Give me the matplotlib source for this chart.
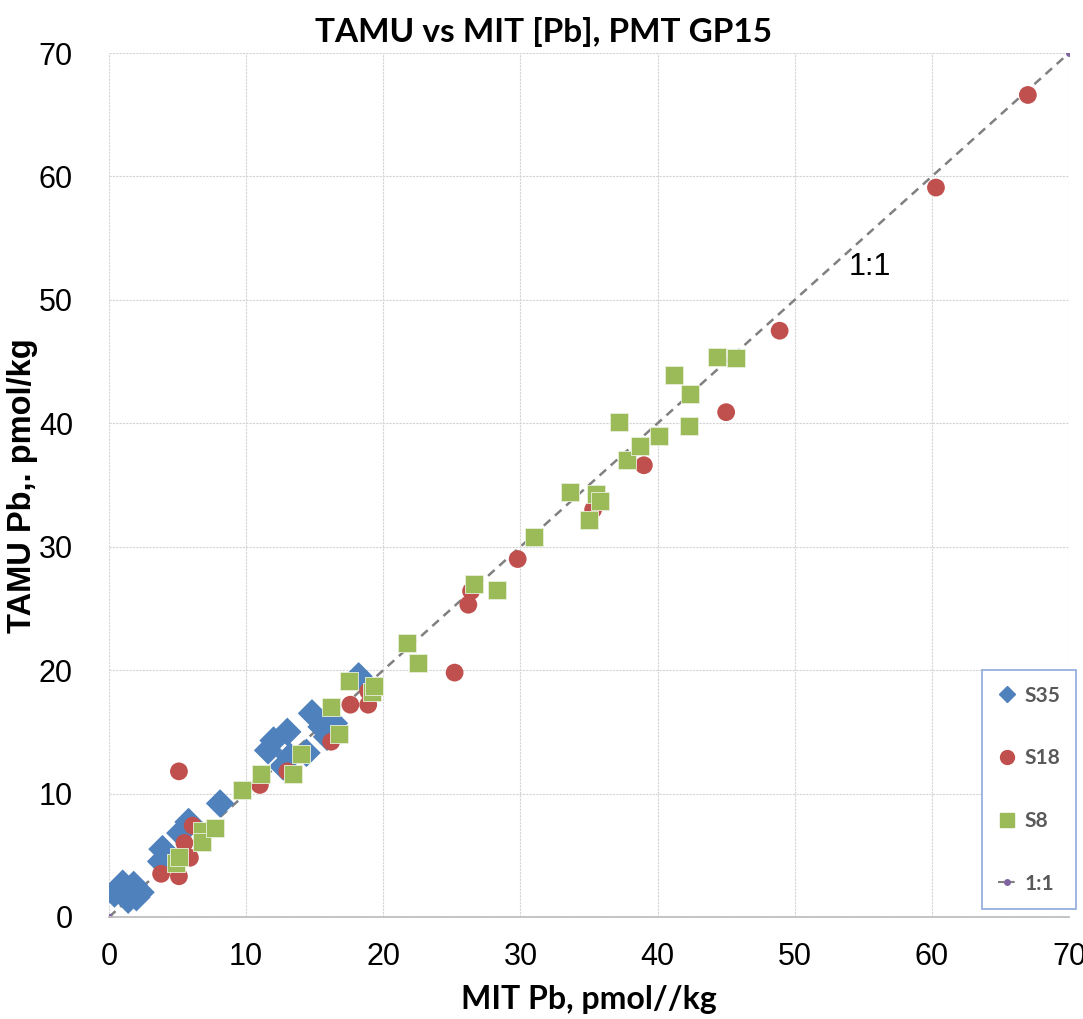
import matplotlib
matplotlib.use("Agg")
import matplotlib.pyplot as plt
from matplotlib.lines import Line2D

# ---- data ----
s35_x = [0.4, 1.2, 1.4, 1.8, 2.3, 2.0, 1.0, 3.9, 3.8, 5.2, 5.8, 8.1,
         12.0, 13.0, 11.6, 13.2, 14.4, 14.8, 15.5, 16.4, 15.9, 12.7, 18.2]
s35_y = [1.9, 2.2, 1.4, 2.6, 2.0, 1.6, 2.7, 5.5, 4.5, 6.8, 7.7, 9.2,
         14.3, 15.0, 13.5, 13.0, 13.3, 16.5, 15.4, 15.7, 14.6, 12.2, 19.5]

s18_x = [5.1, 3.8, 5.1, 5.9, 5.5, 6.1, 11.0, 13.0, 16.2, 17.6, 18.9, 18.9,
         25.2, 26.2, 26.4, 29.8, 35.3, 39.0, 45.0, 48.9, 60.3, 67.0]
s18_y = [11.8, 3.5, 3.3, 4.8, 6.0, 7.4, 10.7, 11.8, 14.2, 17.2, 17.2, 18.3,
         19.8, 25.3, 26.4, 29.0, 33.0, 36.6, 40.9, 47.5, 59.1, 66.6]

s8_x = [4.9, 5.1, 6.8, 6.8, 7.7, 9.7, 11.1, 13.4, 14.0, 16.8, 16.2, 17.5, 19.2, 19.3,
        21.7, 22.5, 26.6, 28.3, 31.0, 33.6, 35.5, 35.8, 35.0, 37.2, 37.8, 38.7,
        40.1, 42.3, 42.4, 41.2, 44.3, 45.7]
s8_y = [4.4, 4.9, 7.0, 6.1, 7.2, 10.3, 11.6, 11.6, 13.2, 14.8, 17.0, 19.1, 18.2, 18.7,
        22.2, 20.6, 27.0, 26.5, 30.8, 34.4, 34.3, 33.7, 32.2, 40.1, 37.0, 38.2,
        39.0, 39.8, 42.4, 43.9, 45.4, 45.3]

line_x = [0, 70]
line_y = [0, 70]

ticks = [0, 10, 20, 30, 40, 50, 60, 70]

BLUE = "#4F81BD"
RED = "#C0504D"
GREEN = "#9BBB59"
PURPLE = "#8064A2"

fig = plt.figure(figsize=(10.83, 10.19), dpi=100)
ax = fig.add_axes([109/1083, 102/1019, 960/1083, 864/1019])

ax.plot(line_x, line_y, linestyle=(0, (3.5, 2.5)), color="#808080", lw=1.8,
        marker="o", ms=4, mfc=PURPLE, mec=PURPLE, zorder=2)
ax.scatter(s35_x, s35_y, marker="D", s=14.5**2, color=BLUE, edgecolors="none", zorder=3)
ax.scatter(s18_x, s18_y, marker="o", s=12.8**2, color=RED, edgecolors="none", zorder=4)
ax.scatter(s8_x, s8_y, marker="s", s=12.5**2, color=GREEN, edgecolors="#e8f0dc",
           linewidths=0.6, zorder=5)

ax.set_xlim(0, 70)
ax.set_ylim(0, 70)
ax.set_xticks(ticks)
ax.set_yticks(ticks)
ax.set_xticklabels([str(t) for t in ticks], fontsize=22, family="Liberation Sans")
ax.set_yticklabels([str(t) for t in ticks], fontsize=22, family="Liberation Sans")
ax.tick_params(axis="both", length=0)
ax.tick_params(axis="y", pad=26)
ax.tick_params(axis="x", pad=18)
ax.grid(True, color="#d4d4d4", linestyle=(0, (2, 1)), lw=0.8, zorder=0)
ax.set_axisbelow(True)
for side in ["top", "right", "left"]:
    ax.spines[side].set_visible(False)
ax.spines["bottom"].set_color("#bfbfbf")
ax.spines["bottom"].set_linewidth(1.3)

ax.text(55.5, 52.7, "1:1", fontsize=22, family="Liberation Sans", ha="center", va="center")

fig.text(0.502, 1 - 32/1019, "TAMU vs MIT [Pb], PMT GP15", fontsize=24, fontweight="bold",
         family="Lato", ha="center", va="center")
fig.text(589/1083, 1 - 1000/1019, "MIT Pb, pmol//kg", fontsize=23, fontweight="bold",
         family="Lato", ha="center", va="center")
fig.text(23/1083, 1 - 486/1019, "TAMU Pb,. pmol/kg", fontsize=23.5, fontweight="bold",
         family="Liberation Sans", ha="center", va="center", rotation=90)

handles = [
    Line2D([], [], marker="D", ls="none", color=BLUE, ms=8),
    Line2D([], [], marker="o", ls="none", color=RED, ms=10),
    Line2D([], [], marker="s", ls="none", color=GREEN, ms=10),
    Line2D([], [], marker="o", ls=(0, (3, 2)), color="#808080", lw=1.5, ms=4,
           mfc=PURPLE, mec=PURPLE),
]
leg = ax.legend(handles, ["S35", "S18", "S8", "1:1"], loc="upper left",
                bbox_to_anchor=(982/1083, 1 - 670/1019), bbox_transform=fig.transFigure,
                prop={"family": "Lato", "weight": "bold", "size": 15},
                labelcolor="#595959", frameon=True, fancybox=False,
                edgecolor="#8EA9DB", framealpha=1, borderpad=0.75, labelspacing=2.05,
                handlelength=0.9, handletextpad=0.4, borderaxespad=0)
leg.get_frame().set_linewidth(1.2)

fig.savefig("out.png", dpi=100)
